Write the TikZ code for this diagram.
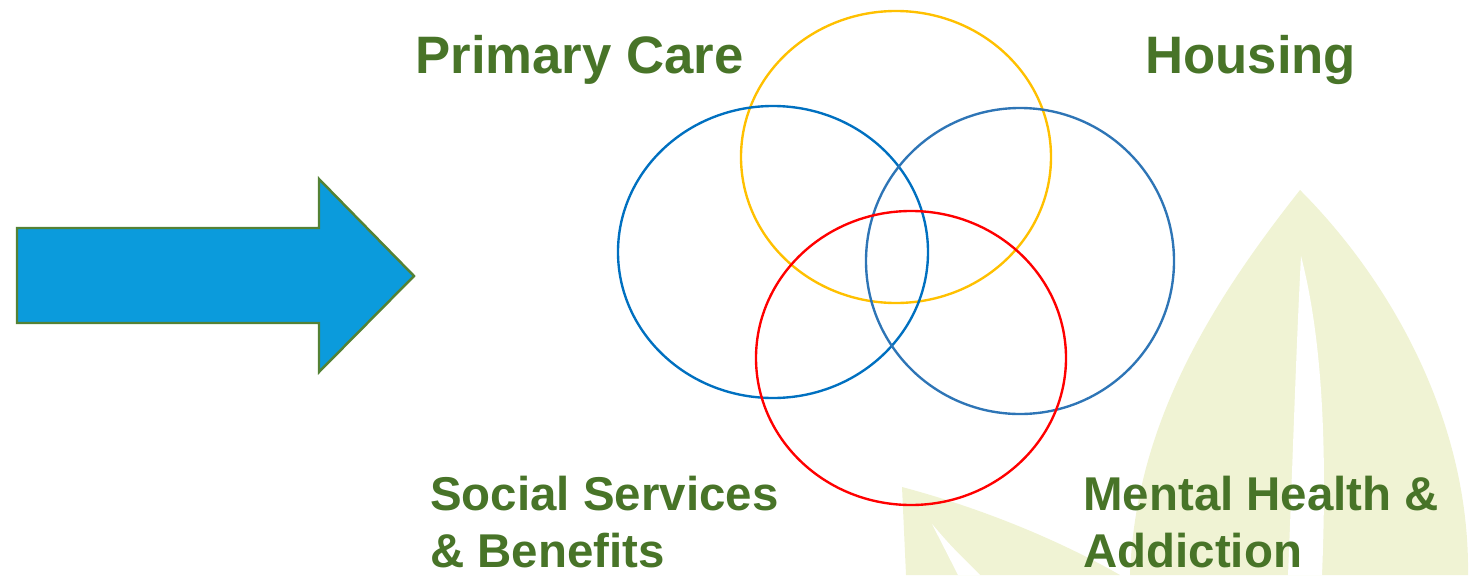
\documentclass[tikz,border=0pt]{standalone}
\usepackage{fontspec}
\setmainfont{Liberation Sans}
\usetikzlibrary{positioning}

\definecolor{leafgreen}{RGB}{240,243,212}
\definecolor{txtgreen}{RGB}{72,116,40}
\definecolor{arrowblue}{RGB}{11,155,220}
\definecolor{arrowline}{RGB}{84,130,53}
\definecolor{ringyellow}{RGB}{255,192,0}
\definecolor{ringblue}{RGB}{0,112,192}
\definecolor{ringsteel}{RGB}{46,117,182}
\definecolor{ringred}{RGB}{255,0,0}

\tikzset{
  bigtitle/.style={inner sep=0pt, text=txtgreen, font=\fontsize{30}{36}\selectfont\bfseries},
  smalltitle/.style={inner sep=0pt, text=txtgreen, align=left,
    font=\fontsize{27}{32.4}\selectfont\bfseries},
  ring/.style={line width=1.35pt}
}

\begin{document}
\begin{tikzpicture}[x=0.02cm, y=-0.02cm]
	\useasboundingbox (0,0) rectangle (1473,575);

	% Листья на фоне
	\fill[leafgreen] (1130,575) .. controls (1135,430) and (1205,310) .. (1300,190)
		.. controls (1390,280) and (1470,420) .. (1468,575) -- cycle;
	\fill[white] (1301,256) .. controls (1296,350) and (1292,480) .. (1288,575)
		-- (1322,575) .. controls (1328,430) and (1320,330) .. (1301,256);
	\fill[leafgreen] (902,487) .. controls (970,505) and (1050,535) .. (1120,575)
		-- (906,575) -- cycle;
	\fill[white] (932,524) .. controls (950,545) .. (980,575) -- (958,575) -- cycle;

	% Стрелка
	\draw[fill=arrowblue, draw=arrowline, line width=1.4pt]
		(17,228) -- (319,228) -- (319,179) -- (414,276) -- (319,372)
		-- (319,323) -- (17,323) -- cycle;

	% Круги
	\draw[ring, ringyellow] (896,157) ellipse (155 and 146);
	\draw[ring, ringblue] (773,252) ellipse (155 and 146);
	\draw[ring, ringsteel] (1020,261) ellipse (154 and 153);
	\draw[ring, ringred] (911,358) ellipse (155 and 147);

	% Подписи
	\node[bigtitle, anchor=base west] (primary) at (415,73) {Primary Care};
	\node[bigtitle, anchor=base west] (housing) at (1145,73) {Housing};
	\node[smalltitle, anchor=north west] (social) at (430,476) {Social Services\\\& Benefits};
	\node[smalltitle, anchor=north west] (mental) at (1083,476) {Mental Health \&\\Addiction};
\end{tikzpicture}
\end{document}
